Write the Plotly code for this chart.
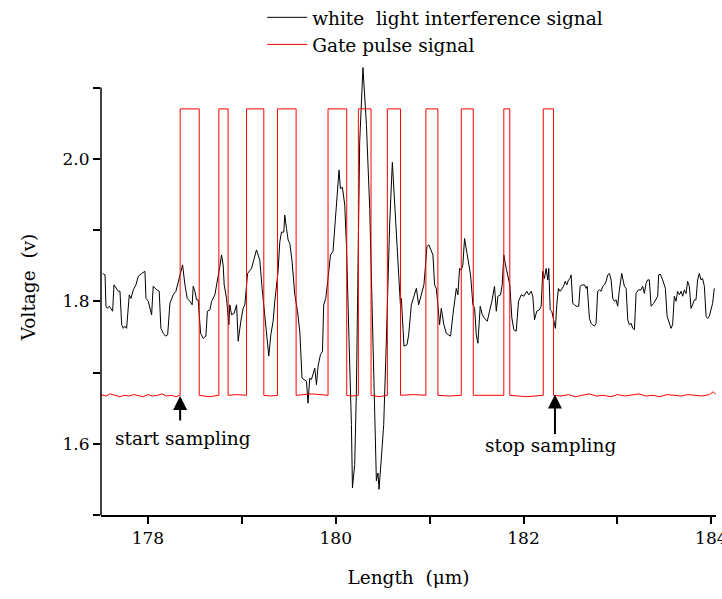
import plotly.graph_objects as go

# ---- white light interference signal (Length in um, Voltage in V) ----
wl_x = [177.518,177.543,177.553,177.567,177.588,177.614,177.624,177.638,177.660,177.684,177.702,177.720,177.737,177.755,177.773,
        177.801,177.819,177.844,177.872,177.897,177.933,177.968,177.979,178.003,178.039,178.056,178.093,178.120,178.138,178.163,
        178.188,178.210,178.234,178.269,178.298,178.340,178.369,178.394,178.418,178.447,178.471,178.482,178.500,178.518,178.535,
        178.561,178.588,178.617,178.633,178.660,178.678,178.713,178.741,178.766,178.784,178.801,178.812,178.837,178.862,178.872,
        178.890,178.918,178.944,178.961,178.989,179.014,179.032,179.061,179.103,179.131,179.156,179.173,179.191,179.216,179.245,
        179.263,179.287,179.309,179.333,179.351,179.369,179.386,179.404,179.422,179.447,179.457,179.476,179.493,179.511,179.535,
        179.564,179.593,179.617,179.641,179.663,179.688,179.705,179.723,179.741,179.759,179.777,179.795,179.812,179.837,179.859,
        179.872,179.894,179.918,179.944,179.971,180.000,180.035,180.050,180.071,180.096,180.114,180.141,180.167,180.178,180.202,
        180.220,180.255,180.290,180.327,180.362,180.397,180.433,180.450,180.461,180.486,180.511,180.539,180.574,180.603,180.628,
        180.646,180.673,180.688,180.699,180.727,180.759,180.777,180.805,180.840,180.859,180.883,180.912,180.939,180.957,180.971,
        180.993,181.018,181.035,181.053,181.071,181.088,181.106,181.124,181.152,181.178,181.205,181.223,181.248,181.266,181.284,
        181.301,181.319,181.337,181.354,181.372,181.390,181.407,181.436,181.461,181.479,181.497,181.514,181.539,181.561,181.585,
        181.614,181.638,181.663,181.691,181.710,181.727,181.755,181.773,181.790,181.816,181.840,181.854,181.876,181.897,181.922,
        181.947,181.976,182.003,182.035,182.056,182.082,182.099,182.117,182.141,182.170,182.188,182.205,182.223,182.241,182.259,
        182.269,182.284,182.301,182.322,182.340,182.354,182.372,182.390,182.407,182.426,182.444,182.461,182.479,182.497,182.507,
        182.524,182.543,182.561,182.588,182.603,182.624,182.649,182.667,182.678,182.702,182.720,182.737,182.755,182.773,182.790,
        182.809,182.826,182.844,182.862,182.880,182.897,182.915,182.933,182.950,182.968,182.986,183.003,183.021,183.046,183.074,
        183.093,183.110,183.128,183.146,183.163,183.181,183.199,183.223,183.252,183.269,183.287,183.305,183.322,183.340,183.359,
        183.386,183.412,183.429,183.439,183.457,183.482,183.511,183.529,183.553,183.571,183.588,183.606,183.624,183.641,183.660,
        183.678,183.695,183.713,183.731,183.748,183.766,183.784,183.801,183.819,183.837,183.854,183.872,183.890,183.907,183.926,
        183.944,183.961,183.979,183.997,184.014,184.032]
wl_v = [1.839,1.837,1.793,1.790,1.793,1.788,1.786,1.823,1.818,1.814,1.814,1.767,1.762,1.765,1.762,
        1.809,1.804,1.816,1.823,1.835,1.839,1.842,1.804,1.800,1.781,1.821,1.816,1.814,1.762,1.755,
        1.751,1.753,1.797,1.809,1.814,1.835,1.851,1.823,1.804,1.800,1.795,1.821,1.814,1.802,1.802,
        1.755,1.748,1.751,1.786,1.788,1.800,1.809,1.828,1.849,1.865,1.851,1.823,1.804,1.767,1.795,
        1.781,1.783,1.795,1.744,1.772,1.790,1.795,1.839,1.846,1.860,1.872,1.865,1.858,1.818,1.781,
        1.758,1.723,1.753,1.772,1.800,1.828,1.842,1.883,1.897,1.897,1.921,1.902,1.886,1.881,1.856,
        1.809,1.786,1.758,1.692,1.690,1.688,1.657,1.692,1.690,1.697,1.706,1.683,1.709,1.725,1.730,
        1.795,1.804,1.832,1.865,1.870,1.925,1.984,1.958,1.960,1.935,1.879,1.748,1.627,1.538,1.571,
        1.674,2.023,2.128,2.047,1.930,1.744,1.548,1.559,1.536,1.580,1.627,1.744,1.907,1.995,1.939,
        1.907,1.832,1.797,1.804,1.737,1.739,1.753,1.795,1.809,1.818,1.795,1.809,1.823,1.851,1.877,
        1.879,1.872,1.865,1.823,1.818,1.795,1.767,1.790,1.767,1.755,1.753,1.751,1.781,1.804,1.818,
        1.809,1.846,1.844,1.851,1.888,1.874,1.865,1.837,1.795,1.790,1.753,1.741,1.793,1.781,1.776,
        1.772,1.786,1.800,1.821,1.786,1.807,1.809,1.823,1.865,1.846,1.828,1.823,1.776,1.760,1.758,
        1.800,1.809,1.807,1.814,1.809,1.814,1.807,1.774,1.786,1.788,1.793,1.842,1.832,1.846,1.830,
        1.846,1.788,1.786,1.772,1.762,1.795,1.818,1.814,1.818,1.821,1.828,1.823,1.830,1.832,1.837,
        1.797,1.795,1.793,1.793,1.821,1.823,1.823,1.818,1.821,1.776,1.769,1.767,1.765,1.769,1.814,
        1.816,1.814,1.821,1.823,1.828,1.837,1.839,1.830,1.804,1.800,1.802,1.793,1.816,1.839,1.821,
        1.818,1.774,1.767,1.769,1.762,1.760,1.811,1.816,1.816,1.821,1.811,1.825,1.830,1.830,1.793,
        1.797,1.802,1.807,1.837,1.838,1.830,1.818,1.779,1.769,1.762,1.767,1.807,1.800,1.814,1.809,
        1.814,1.807,1.816,1.811,1.828,1.821,1.790,1.795,1.802,1.802,1.830,1.839,1.830,1.832,1.821,
        1.779,1.776,1.779,1.788,1.797,1.818]

# ---- gate pulse signal ----
gate_rise = [178.343, 178.755, 179.050, 179.380, 179.918, 180.241, 180.550, 180.960, 181.337, 181.790, 182.210]
gate_fall = [178.546, 178.854, 179.234, 179.578, 180.117, 180.376, 180.690, 181.088, 181.465, 181.854, 182.320]
gate_high = 2.070
gate_low = 1.668
gap_levels = [1.666, 1.669, 1.667, 1.670, 1.667, 1.666, 1.669, 1.667, 1.668, 1.666]

gate_pre_x = [177.50, 177.55, 177.60, 177.65, 177.70, 177.75, 177.80, 177.85, 177.90, 177.95,
              178.00, 178.05, 178.10, 178.15, 178.20, 178.25, 178.30]
gate_pre_y = [1.669, 1.667, 1.670, 1.668, 1.666, 1.668, 1.667, 1.669, 1.668, 1.666,
              1.669, 1.667, 1.668, 1.670, 1.667, 1.668, 1.666]
gate_post_x = [182.40, 182.48, 182.55, 182.63, 182.70, 182.78, 182.85, 182.93, 183.00, 183.08,
               183.15, 183.23, 183.30, 183.38, 183.45, 183.53, 183.60, 183.68, 183.75, 183.83,
               183.90, 183.98, 184.02, 184.05]
gate_post_y = [1.667, 1.669, 1.666, 1.668, 1.670, 1.667, 1.668, 1.666, 1.669, 1.667,
               1.668, 1.670, 1.667, 1.668, 1.666, 1.669, 1.668, 1.667, 1.669, 1.668,
               1.667, 1.669, 1.673, 1.669]

gx, gy = list(gate_pre_x), list(gate_pre_y)
for i, (r, f) in enumerate(zip(gate_rise, gate_fall)):
    gx += [r, r, f, f]
    gy += [gate_low, gate_high, gate_high, gate_low]
    if i < len(gap_levels):
        gx.append((f + gate_rise[i + 1]) / 2)
        gy.append(gap_levels[i])
gx += gate_post_x
gy += gate_post_y

FONT = "DejaVu Serif"
TXT = 18.5
TICK = 17
Y_AXIS_TOP = 2.1

fig = go.Figure()
fig.add_trace(go.Scatter(x=wl_x, y=wl_v, mode="lines", name="white\u00a0 light interference signal",
                         line=dict(color="black", width=1)))
fig.add_trace(go.Scatter(x=gx, y=gy, mode="lines", name="Gate pulse signal",
                         line=dict(color="#ff0000", width=1)))

axis_common = dict(ticks="outside", ticklen=7,
                   tickwidth=1.5, tickcolor="black", showgrid=False, zeroline=False,
                   automargin=False, ticklabeloverflow="allow",
                   tickfont=dict(family=FONT, size=TICK, color="black"))

fig.update_xaxes(range=[177.5, 184.05], tick0=178, dtick=2, showline=True, linecolor="black", linewidth=1.5,
                 minor=dict(dtick=1, ticks="outside", ticklen=7, tickwidth=1.5, tickcolor="black"),
                 title=dict(text="Length\u00a0 (\u03bcm)", font=dict(family=FONT, size=TXT, color="black"),
                            standoff=24),
                 **axis_common)
fig.update_yaxes(range=[1.5, 2.14], tick0=1.6, dtick=0.2, tickformat=".1f", showline=False,
                 minor=dict(dtick=0.1, ticks="outside", ticklen=7, tickwidth=1.5, tickcolor="black"),
                 title=dict(text="Voltage\u00a0 (v)", font=dict(family=FONT, size=TXT, color="black"),
                            standoff=22),
                 **axis_common)

# left axis line stops at 2.1 like the original frame
fig.add_shape(type="line", xref="paper", yref="y", x0=0, x1=0, y0=1.5, y1=Y_AXIS_TOP,
              line=dict(color="black", width=1.5), layer="above")

# arrows and labels
fig.add_annotation(x=178.343, y=1.667, ax=0, ay=26, text="", showarrow=True,
                   arrowhead=2, arrowsize=1.4, arrowwidth=2, arrowcolor="black", standoff=0)
fig.add_annotation(x=182.335, y=1.669, ax=0, ay=41, text="", showarrow=True,
                   arrowhead=2, arrowsize=1.4, arrowwidth=2, arrowcolor="black", standoff=0)
fig.add_annotation(x=178.372, y=1.607, text="start sampling", showarrow=False,
                   font=dict(family=FONT, size=TXT, color="black"))
fig.add_annotation(x=182.29, y=1.597, text="stop sampling", showarrow=False,
                   font=dict(family=FONT, size=TXT, color="black"))

fig.update_layout(
    width=722, height=599,
    margin=dict(l=101, r=6, t=59.4, b=84, autoexpand=False),
    plot_bgcolor="white", paper_bgcolor="white",
    font=dict(family=FONT, size=TXT, color="black"),
    showlegend=True,
    legend=dict(x=0.262, y=1.132, xanchor="left", yanchor="top", bgcolor="rgba(0,0,0,0)",
                font=dict(family=FONT, size=TXT, color="black"), tracegroupgap=0,
                itemwidth=40),
)

fig.write_html("out.html", post_script="document.body.style.margin='0px';",
               config={"displayModeBar": False})
